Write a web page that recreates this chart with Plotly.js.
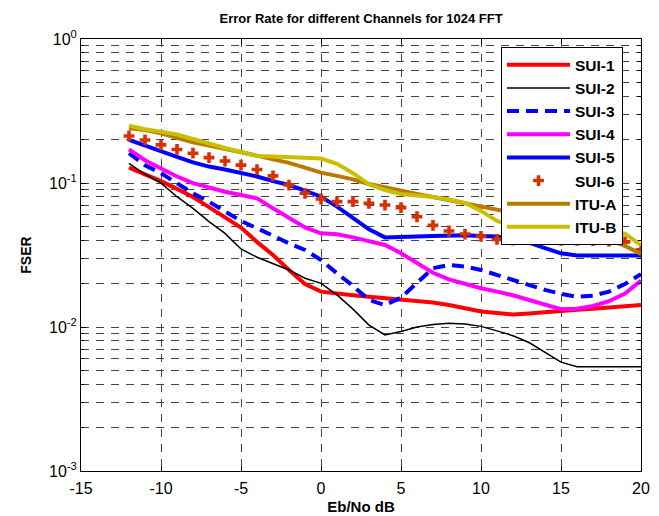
<!DOCTYPE html>
<html><head><meta charset="utf-8">
<script src="https://cdn.plot.ly/plotly-3.0.1.min.js"></script>
<style>html,body{margin:0;padding:0;background:#fff}</style>
</head><body>
<div id="chart" style="width:659px;height:516px"></div>
<script>
var ebno = [-12,-11,-10,-9,-8,-7,-6,-5,-4,-3,-2,-1,0,1,2,3,4,5,6,7,8,9,10,11,12,13,14,15,16,17,18,19,20];

var sui1 = [0.128,0.115,0.103,0.091,0.080,0.068,0.058,0.049,0.039,0.0316,0.0249,0.0199,0.0176,0.0170,0.0166,0.0162,0.0158,0.0154,0.0151,0.0148,0.0142,0.0135,0.0128,0.0125,0.0122,0.0124,0.0127,0.0130,0.0132,0.0134,0.0136,0.0138,0.0142];
var sui2 = [0.137,0.115,0.0997,0.0803,0.0667,0.0539,0.0447,0.0348,0.0305,0.0277,0.0249,0.0218,0.0201,0.0167,0.0133,0.0103,0.0088,0.0093,0.0100,0.0104,0.0106,0.0105,0.0101,0.0094,0.0087,0.0078,0.0067,0.0057,0.0053,0.0053,0.0053,0.0053,0.0053];
var sui3 = [0.161,0.133,0.117,0.0997,0.0848,0.0741,0.063,0.0545,0.0485,0.0429,0.0381,0.0343,0.0292,0.0236,0.0193,0.0154,0.0142,0.0160,0.0201,0.0256,0.0270,0.0263,0.0249,0.0230,0.0210,0.0194,0.0181,0.0170,0.0162,0.0165,0.0176,0.0199,0.0233];
var sui4 = [0.171,0.144,0.126,0.111,0.0997,0.0928,0.087,0.0826,0.0783,0.0667,0.0569,0.0492,0.0447,0.0440,0.0419,0.0397,0.0371,0.0325,0.0277,0.0238,0.0214,0.0199,0.0186,0.0176,0.0166,0.0154,0.0142,0.0133,0.0134,0.0140,0.0151,0.0171,0.0210];
var sui5 = [0.199,0.181,0.165,0.152,0.139,0.130,0.124,0.117,0.111,0.103,0.0968,0.0885,0.0803,0.0685,0.0569,0.0477,0.0419,0.0419,0.0425,0.0429,0.0433,0.0434,0.0429,0.0425,0.0409,0.0385,0.0353,0.0325,0.0314,0.0314,0.0314,0.0314,0.0314];
var sui6 = [0.212,0.199,0.184,0.171,0.161,0.150,0.142,0.133,0.124,0.112,0.0968,0.0848,0.0774,0.0742,0.0742,0.0722,0.0703,0.0674,0.0583,0.0508,0.0464,0.0442,0.0426,0.0406,0.0402,0.0413,0.0405,0.0400,0.0400,0.0398,0.0395,0.0390,0.0343];
var itua = [0.240,0.233,0.221,0.205,0.192,0.182,0.173,0.164,0.155,0.146,0.138,0.128,0.118,0.112,0.106,0.0985,0.093,0.088,0.084,0.080,0.0762,0.0721,0.0687,0.0655,0.062,0.059,0.055,0.0505,0.0464,0.0436,0.0403,0.0366,0.0322];
var itub = [0.250,0.236,0.227,0.217,0.202,0.187,0.175,0.164,0.154,0.153,0.152,0.150,0.148,0.136,0.117,0.0977,0.0894,0.0839,0.0819,0.0800,0.0768,0.0727,0.064,0.0545,0.050,0.049,0.048,0.048,0.047,0.047,0.046,0.0445,0.037];

var names = ['SUI-1','SUI-2','SUI-3','SUI-4','SUI-5','SUI-6','ITU-A','ITU-B'];
var yTickVals = [0.001,0.01,0.1,1];
var yTickText = ['10<sup>-3</sup>','10<sup>-2</sup>','10<sup>-1</sup>','10<sup>0</sup>'];
var yMinorVals = [0.002,0.003,0.004,0.005,0.006,0.007,0.008,0.009,0.02,0.03,0.04,0.05,0.06,0.07,0.08,0.09,0.2,0.3,0.4,0.5,0.6,0.7,0.8,0.9];
var xTickVals = [-15,-10,-5,0,5,10,15,20];

function line(y, name, color, width, dash) {
  return {x: ebno, y: y, name: name, type: 'scatter', mode: 'lines',
          line: {color: color, width: width, dash: dash || 'solid'}};
}
var traces = [
  line(sui1, names[0], '#ff0000', 4),
  line(sui2, names[1], '#000000', 1.5),
  line(sui3, names[2], '#0000ff', 4, '12px,7px'),
  line(sui4, names[3], '#ff00ff', 4),
  line(sui5, names[4], '#0000ff', 4),
  {x: ebno, y: sui6, name: names[5], type: 'scatter', mode: 'markers',
   marker: {symbol: 'cross', size: 9, color: '#d83000', line: {width: 0}}},
  line(itua, names[6], '#b97a00', 4),
  line(itub, names[7], '#c8bf00', 4)
];

var fontFam = 'Liberation Sans, Arial, sans-serif';
var gridStyle = {gridcolor: '#444', griddash: '8px,7px', gridwidth: 1};
var layout = {
  width: 659, height: 516,
  margin: {l: 81, r: 18, t: 39, b: 45},
  paper_bgcolor: '#fff', plot_bgcolor: '#fff',
  font: {family: fontFam, color: '#000', size: 16},
  title: {text: '<b>Error Rate for different Channels for 1024 FFT</b>', font: {size: 13, family: fontFam},
          x: 0.548, xanchor: 'center', y: 0.965, yanchor: 'middle'},
  xaxis: Object.assign({range: [-15, 20], tickmode: 'array', tickvals: xTickVals, ticktext: xTickVals.map(String),
          showgrid: true,
          zeroline: false, showline: true, linecolor: '#000', linewidth: 1, mirror: 'ticks',
          ticks: 'inside', ticklen: 5, tickcolor: '#000', tickfont: {size: 16}, ticklabelstandoff: 3,
          title: {text: '<b>Eb/No dB</b>', font: {size: 15}, standoff: 5}}, gridStyle),
  yaxis: Object.assign({type: 'log', range: [-3, 0], tickmode: 'array', tickvals: yTickVals, ticktext: yTickText,
          showgrid: true,
          zeroline: false, showline: true, linecolor: '#000', linewidth: 1, mirror: 'ticks',
          ticks: 'inside', ticklen: 5, tickcolor: '#000', tickfont: {size: 16},
          minor: Object.assign({tickmode: 'array', tickvals: yMinorVals, showgrid: true,
                  ticks: 'inside', ticklen: 3, tickcolor: '#000'}, gridStyle),
          title: {text: '<b>FSER</b>', font: {size: 14}, standoff: 14}}, gridStyle),
  legend: {x: 0.75, y: 0.981, xanchor: 'left', yanchor: 'top', bgcolor: '#fff',
           bordercolor: '#000', borderwidth: 1, font: {size: 15.5, family: fontFam, weight: 'bold'},
           tracegroupgap: 0, itemwidth: 63},
  showlegend: true
};
Plotly.newPlot('chart', traces, layout, {staticPlot: true, displayModeBar: false});
</script>
</body></html>
